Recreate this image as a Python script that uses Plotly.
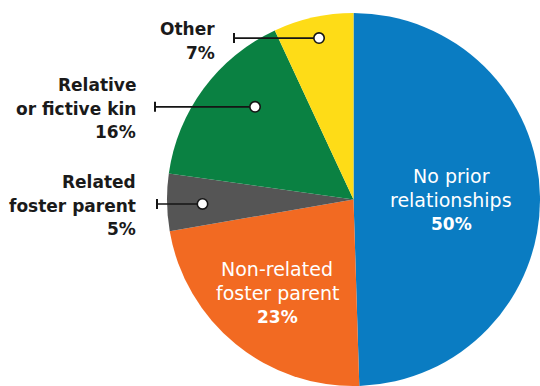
import math
import plotly.graph_objects as go

# ---- data ----
labels = ["No prior relationships", "Non-related foster parent", "Related foster parent",
          "Relative or fictive kin", "Other"]
label_lines = [["No prior", "relationships"], ["Non-related", "foster parent"],
               ["Related", "foster parent"], ["Relative", "or fictive kin"], ["Other"]]
values = [50, 23, 5, 16, 7]
colors = ["#0a7cc2", "#f26a22", "#555555", "#0a8142", "#fedc17"]

# ---- layout geometry (pixels) ----
W, H = 540, 386
cx, cy, R = 353.5, 199.5, 186.5

# outside labels: slice index -> (position within slice, radius fraction, tick x, text right x, baselines)
outside = {4: (0.517, 0.885, 234, 217, [35, 59]),
           3: (0.618, 0.725, 155, 138, [91, 115, 138]),
           2: (0.455, 0.81, 157, 138, [188, 212, 235])}
# inside labels: slice index -> (center x, baselines)
inside = {0: (451, [183, 207, 230]), 1: (277, [276, 299.5, 323])}

FONT = "DejaVu Sans"
OUT_SIZE = 17
IN_SIZE = 19

fig = go.Figure(go.Pie(
    values=values, labels=labels, sort=False, direction="clockwise", rotation=0,
    marker=dict(colors=colors, line=dict(width=0)),
    textinfo="none", hoverinfo="skip", showlegend=False,
    domain=dict(x=[(cx - R) / W, min(1, (cx + R) / W)],
                y=[max(0, 1 - (cy + R) / H), 1 - (cy - R) / H]),
))

def px(x, y):
    return x / W, 1 - y / H

def text_line(x, baseline, txt, size, color, anchor, bold):
    ax, ay = px(x, baseline - 0.36 * size)
    return dict(x=ax, y=ay, xref="paper", yref="paper", xanchor=anchor, yanchor="middle",
                showarrow=False, text=txt,
                font=dict(family=FONT, size=size, color=color, weight=700 if bold else 400))

total = sum(values)
cum = 0.0
shapes, annotations = [], []
ink = "#151515"
for i, v in enumerate(values):
    start = cum / total * 360
    sweep = v / total * 360
    cum += v
    pct = f"{v}%"
    if i in outside:
        frac, rf, tickx, textx, baselines = outside[i]
        ang = math.radians(start + frac * sweep)
        dx = cx + rf * R * math.sin(ang)
        dy = cy - rf * R * math.cos(ang)
        x0, y0 = px(tickx, dy)
        x1, y1 = px(dx, dy)
        shapes.append(dict(type="line", xref="paper", yref="paper", x0=x0, y0=y0, x1=x1, y1=y1,
                           line=dict(color=ink, width=1.6)))
        t0 = px(tickx, dy - 5)
        t1 = px(tickx, dy + 5)
        shapes.append(dict(type="line", xref="paper", yref="paper", x0=t0[0], y0=t0[1], x1=t1[0], y1=t1[1],
                           line=dict(color=ink, width=2)))
        c0 = px(dx - 5.2, dy - 5.2)
        c1 = px(dx + 5.2, dy + 5.2)
        shapes.append(dict(type="circle", xref="paper", yref="paper", x0=c0[0], y0=c1[1], x1=c1[0], y1=c0[1],
                           fillcolor="white", line=dict(color=ink, width=1.6)))
        for txt, b in zip(label_lines[i] + [pct], baselines):
            annotations.append(text_line(textx, b, txt, OUT_SIZE, "#1a1a1a", "right", True))
    else:
        tx, baselines = inside[i]
        lines = label_lines[i] + [pct]
        for k, (txt, b) in enumerate(zip(lines, baselines)):
            is_pct = k == len(lines) - 1
            annotations.append(text_line(tx, b, txt, OUT_SIZE if is_pct else IN_SIZE, "white", "center", is_pct))

fig.update_layout(width=W, height=H, margin=dict(l=0, r=0, t=0, b=0),
                  paper_bgcolor="white", plot_bgcolor="white",
                  shapes=shapes, annotations=annotations)
fig.write_html("out.html")
